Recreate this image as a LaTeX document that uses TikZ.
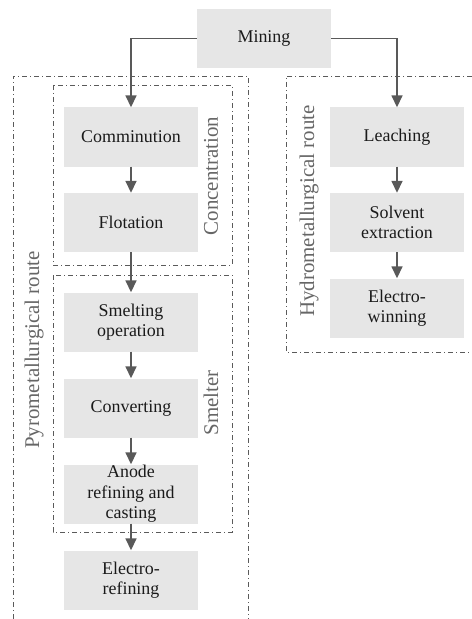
\documentclass[tikz,border=0pt]{standalone}
\usepackage{fontspec}
\setmainfont{Liberation Serif}
\usetikzlibrary{arrows.meta}
\definecolor{boxfill}{HTML}{E6E6E6}
\definecolor{arrowcol}{HTML}{595959}
\definecolor{framecol}{HTML}{5A5A5A}
\definecolor{labelcol}{HTML}{666666}
\definecolor{textcol}{HTML}{1A1A1A}
\begin{document}
\begin{tikzpicture}[x=1bp,y=-1bp,
  procbox/.style={fill=boxfill, minimum width=134bp, minimum height=59bp, inner sep=0pt,
    align=center, text=textcol, font=\fontsize{18}{20.5}\selectfont},
  flow/.style={draw=arrowcol, line width=1.6bp, -{Triangle[length=12bp,width=11bp]}},
  frame/.style={draw=framecol, line width=0.9bp, dash pattern=on 5bp off 3bp on 1bp off 3bp},
  vlabel/.style={rotate=90, text=labelcol, font=\fontsize{21}{24}\selectfont, inner sep=0pt}]
\useasboundingbox (0,0) rectangle (472,619);
% frames
\draw[frame] (13,619) -- (13,76) -- (248,76) -- (248,619);
\draw[frame] (53,85) rectangle (232,265);
\draw[frame] (53,275) rectangle (232,532);
\draw[frame] (472,76) -- (286,76) -- (286,352) -- (472,352);
% boxes
\node[procbox] (mining) at (264,38.5) {Mining};
\node[procbox] (comm) at (131,137) {Comminution};
\node[procbox] (flot) at (131,222.5) {Flotation};
\node[procbox] (smelt) at (131,322) {Smelting\\operation};
\node[procbox] (conv) at (131,408) {Converting};
\node[procbox] (anode) at (131,494) {Anode\\refining and\\casting};
\node[procbox] (eref) at (131,580) {Electro-\\refining};
\node[procbox] (leach) at (397,137) {Leaching};
\node[procbox] (solv) at (397,222.5) {Solvent\\extraction};
\node[procbox] (ewin) at (397,308) {Electro-\\winning};
% labels
\node[vlabel] (lconc) at (211,176) {Concentration};
\node[vlabel] (lsmelt) at (211,403) {Smelter};
\node[vlabel] (lpyro) at (34,350) {Pyrometallurgical route};
\node[vlabel] (lhydro) at (309,211) {Hydrometallurgical route};
% arrows
\draw[flow] (mining.west) -| (comm.north);
\draw[flow] (mining.east) -| (leach.north);
\draw[flow] (comm) -- (flot);
\draw[flow] (flot) -- (smelt);
\draw[flow] (smelt) -- (conv);
\draw[flow] (conv) -- (anode);
\draw[flow] (anode) -- (eref);
\draw[flow] (leach) -- (solv);
\draw[flow] (solv) -- (ewin);
\end{tikzpicture}
\end{document}
